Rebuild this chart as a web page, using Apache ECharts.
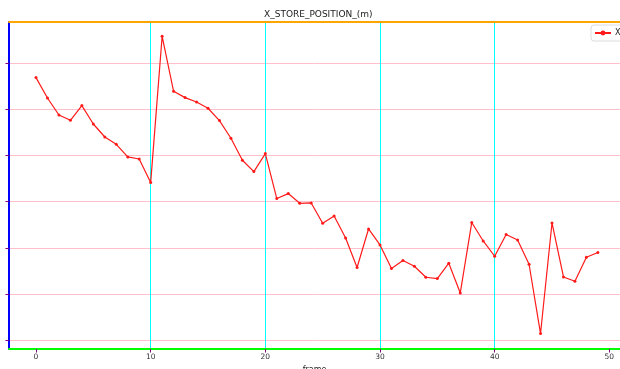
<!DOCTYPE html>
<html>
<head>
<meta charset="utf-8">
<script src="https://cdn.jsdelivr.net/npm/echarts@6/dist/echarts.min.js"></script>
<style>
  html, body { margin: 0; padding: 0; background: #fff; }
  #chart { width: 620px; height: 369px; }
</style>
</head>
<body>
<div id="chart"></div>
<script>
// Store position per frame
const frames = [];
for (let i = 0; i < 50; i++) frames.push(i);
const xStore = [
  5.686, 5.245, 4.877, 4.762, 5.080, 4.682, 4.400, 4.242, 3.968, 3.924,
  3.413, 6.580, 5.390, 5.253, 5.158, 5.022, 4.755, 4.372, 3.896, 3.651,
  4.041, 3.067, 3.175, 2.965, 2.972, 2.532, 2.690, 2.214, 1.574, 2.409,
  2.063, 1.552, 1.725, 1.602, 1.364, 1.335, 1.667, 1.024, 2.548, 2.149,
  1.818, 2.288, 2.171, 1.645, 0.145, 2.539, 1.370, 1.277, 1.797, 1.898
];
const xTicks = [0, 10, 20, 30, 40, 50];
const yTicks = [0, 1, 2, 3, 4, 5, 6];

const font = 'DejaVu Sans';
const chart = echarts.init(document.getElementById('chart'), null, { renderer: 'canvas' });
chart.setOption({
  animation: false,
  backgroundColor: '#ffffff',
  title: {
    text: 'X_STORE_POSITION_(m)',
    left: 264,
    top: 10,
    padding: 0,
    textStyle: { fontFamily: font, fontSize: 9, fontWeight: 'normal', color: '#222' }
  },
  legend: {
    data: ['X'],
    left: 591,
    top: 25,
    padding: [4, 6, 4, 3],
    itemWidth: 16,
    itemHeight: 6,
    itemGap: 4,
    borderColor: '#dcdcdc',
    borderWidth: 1,
    borderRadius: 3,
    backgroundColor: '#fff',
    textStyle: { fontFamily: font, fontSize: 8, color: '#222', padding: [0, 0, 0, -1] }
  },
  grid: {
    left: 9, top: 22, right: 0, bottom: 20,
    outerBoundsMode: 'none',
    containLabel: false,
    show: false,
    borderWidth: 0
  },
  xAxis: [{
    type: 'value',
    position: 'bottom',
    min: -2.355, max: 50.93,
    name: 'frame',
    nameLocation: 'middle',
    nameGap: 11,
    nameTextStyle: { fontFamily: font, fontSize: 8, color: '#222' },
    axisLine: { show: true, onZero: false, lineStyle: { color: 'lime', width: 2 } },
    axisTick: { show: true, inside: false, length: 3.5, customValues: xTicks, lineStyle: { color: 'purple' } },
    axisLabel: { customValues: xTicks, fontFamily: font, fontSize: 7.5, color: '#333', margin: 4 },
    splitLine: { show: true, showMinLine: false, showMaxLine: false, lineStyle: { color: 'cyan', width: 1 } }
  }, {
    type: 'value',
    position: 'top',
    min: -2.355, max: 50.93,
    axisLine: { show: true, onZero: false, lineStyle: { color: 'orange', width: 2 } },
    axisTick: { show: false },
    axisLabel: { show: false },
    splitLine: { show: false }
  }],
  yAxis: {
    type: 'value',
    min: -0.19, max: 6.89,
    axisLine: { show: true, onZero: false, lineStyle: { color: 'blue', width: 2 } },
    axisTick: { show: true, inside: false, length: 3.5, customValues: yTicks, lineStyle: { color: 'purple' } },
    axisLabel: { show: false },
    splitLine: { show: true, lineStyle: { color: 'pink', width: 1 } }
  },
  series: [{
    name: 'X',
    type: 'line',
    xAxisIndex: 0,
    data: frames.map((f, i) => [f, xStore[i]]),
    color: '#ff1a1a',
    symbol: 'circle',
    symbolSize: 3,
    lineStyle: { width: 1.2, color: '#ff1a1a' },
    itemStyle: { color: '#ff1a1a' }
  }]
});
</script>
</body>
</html>
